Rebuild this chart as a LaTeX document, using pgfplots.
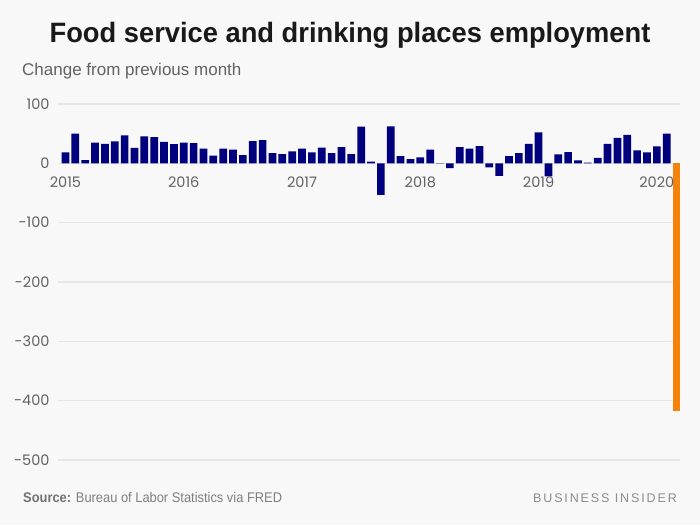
\documentclass[border=0pt]{standalone}
\usepackage{pgfplots}
\pgfplotsset{compat=1.18}
\usepackage{fontspec}
\setmainfont{Liberation Sans}
\newfontfamily\tickfont{Poppins}
\newfontfamily\bifont[LetterSpace=15]{Liberation Sans}
\definecolor{bg}{HTML}{F8F8F8}
\definecolor{navybar}{HTML}{00007F}
\definecolor{orangebar}{HTML}{F5820A}
\definecolor{gridc}{HTML}{E6E6E6}
\definecolor{tickc}{HTML}{626262}
\begin{document}
\begin{tikzpicture}[x=1pt,y=1pt]
\fill[bg] (0,0) rectangle (700,525);
\node[anchor=base, text=black!90, font=\fontsize{28}{30}\selectfont\bfseries] at (350,482) {\scalebox{0.975}[1]{Food service and drinking places employment}};
\node[anchor=base west, inner sep=0pt, text=tickc, font=\fontsize{17}{19}\selectfont] at (22,449) {Change from previous month};
\node[anchor=base west, inner sep=0pt, text=black!55, font=\fontsize{14}{16}\selectfont] at (23,23) {\scalebox{0.92}[1]{\textbf{Source:} \color{black!50}Bureau of Labor Statistics via FRED}};
\node[anchor=base east, inner sep=0pt, text=black!45, font=\fontsize{12.5}{14}\selectfont] at (677,23) {\bifont BUSINESS INSIDER};
\begin{axis}[
  at={(58pt,65pt)}, anchor=south west,
  scale only axis, width=622pt, height=356pt,
  xmin=-0.76, xmax=62.35, ymin=-500, ymax=100,
  axis line style={draw=none},
  major tick style={draw=none},
  xtick=\empty,
  ytick={-500,-400,-300,-200,-100,0,100},
  yticklabels={-500,-400,-300,-200,-100,0,100},
  yticklabel style={font=\tickfont\fontsize{14.5}{16}\selectfont, text=tickc, anchor=east, xshift=-5pt},
  ymajorgrids, grid style={gridc, line width=1.6pt},
  clip=false,
  ybar, bar width=7.7pt,
]
\addplot[fill=navybar, draw=none, bar shift=0pt] coordinates {
(0,18.5) (1,50) (2,5.6) (3,35) (4,33) (5,37) (6,47) (7,26) (8,45.5) (9,44) (10,36) (11,32.5)
(12,35) (13,34) (14,25) (15,13) (16,25) (17,23) (18,14) (19,37.6) (20,39) (21,17) (22,15.7) (23,20)
(24,25) (25,18.5) (26,26.5) (27,17) (28,27.5) (29,15.7) (30,62) (31,3) (32,-53) (33,62.5) (34,12) (35,7.3)
(36,10) (37,23) (38,0.5) (39,-8) (40,27.5) (41,25) (42,29) (43,-7) (44,-21) (45,12) (46,17) (47,33)
(48,52) (49,-22) (50,15) (51,19) (52,5) (53,1) (54,9) (55,33) (56,43) (57,48) (58,22) (59,18.5)
(60,28.7) (61,50)
};
\addplot[fill=orangebar, draw=none, bar shift=0pt] coordinates {(62,-417)};
\foreach \yr/\xx in {2015/0,2016/12,2017/24,2018/36,2019/48,2020/60}{
  \edef\tmp{\noexpand\node[anchor=base, text=tickc, font=\noexpand\tickfont\noexpand\fontsize{14.5}{16}\noexpand\selectfont] at (axis cs:\xx,-41) {\yr};}
  \tmp
}
\end{axis}
\end{tikzpicture}
\end{document}
